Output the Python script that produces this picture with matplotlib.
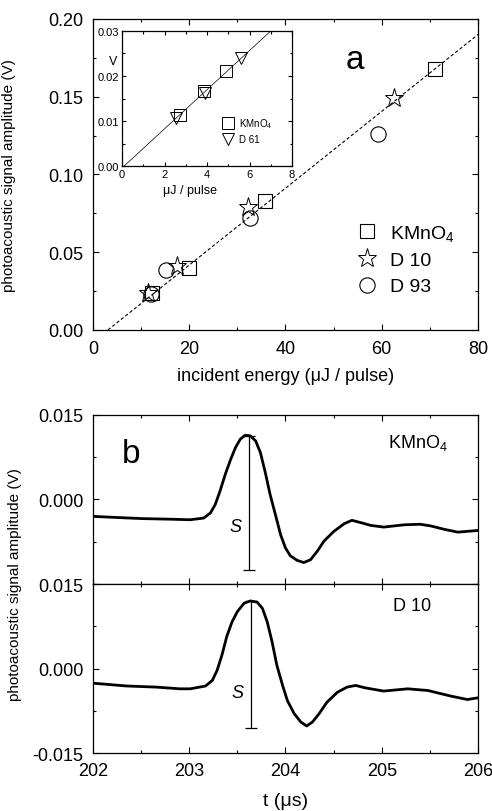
import numpy as np
import matplotlib
matplotlib.use("Agg")
import matplotlib.pyplot as plt
from matplotlib.ticker import MultipleLocator, FormatStrFormatter

plt.rcParams['font.family'] = ['Liberation Sans', 'DejaVu Sans']
plt.rcParams['mathtext.fontset'] = 'custom'
plt.rcParams['mathtext.rm'] = 'Liberation Sans'
plt.rcParams['mathtext.default'] = 'regular'

# energy scan (uJ / pulse vs V)
kmno4_e = [12.3, 20.0, 35.8, 71.0]
kmno4_v = [0.024, 0.040, 0.083, 0.168]
d10_e = [11.5, 17.5, 32.3, 62.5]
d10_v = [0.024, 0.041, 0.079, 0.149]
d93_e = [12.1, 15.2, 32.7, 59.2]
d93_v = [0.023, 0.0387, 0.072, 0.126]
fit_e = [3.1, 80.0]
fit_v = [0.0, 0.19]

# low energy inset
ins_k_e = [2.75, 3.85, 4.9]
ins_k_v = [0.0113, 0.0167, 0.0211]
ins_d61_e = [2.55, 3.9, 5.6]
ins_d61_v = [0.0107, 0.0162, 0.0240]
ins_fit_e = [0.1, 7.0]
ins_fit_v = [0.0, 0.03]

# photoacoustic transients (t in us, V)
t_kmno4 = [202.0, 202.25, 202.52, 202.8, 203.01, 203.15, 203.22, 203.27, 203.32, 203.375,
           203.43, 203.48, 203.53, 203.58, 203.635, 203.69, 203.74, 203.79, 203.84, 203.9,
           203.95, 204.0, 204.05, 204.12, 204.19, 204.26, 204.33, 204.4, 204.5, 204.61,
           204.69, 204.78, 204.885, 205.02, 205.23, 205.4, 205.51, 205.65, 205.79, 206.0]
v_kmno4 = [-0.0030, -0.0032, -0.0034, -0.0035, -0.0036, -0.0033, -0.0024, -0.0009, 0.0015, 0.0045,
           0.0071, 0.0092, 0.0107, 0.0114, 0.0113, 0.0104, 0.0083, 0.0048, 0.0009, -0.0030,
           -0.0063, -0.0086, -0.0100, -0.0108, -0.0112, -0.0107, -0.0092, -0.0074, -0.0057, -0.0043,
           -0.0037, -0.0041, -0.0046, -0.0049, -0.0045, -0.0044, -0.0047, -0.0053, -0.0058, -0.0055]
t_d10 = [202.0, 202.35, 202.66, 202.9, 203.01, 203.17, 203.24, 203.29, 203.34, 203.39,
         203.445, 203.5, 203.57, 203.635, 203.705, 203.76, 203.81, 203.86, 203.91, 203.97,
         204.02, 204.09, 204.16, 204.22, 204.28, 204.35, 204.43, 204.54, 204.64, 204.73,
         204.82, 204.885, 205.02, 205.27, 205.48, 205.6, 205.72, 205.89, 206.0]
v_d10 = [-0.0026, -0.0031, -0.0033, -0.0036, -0.0036, -0.0031, -0.0021, -0.0003, 0.0024, 0.0057,
         0.0083, 0.0101, 0.0116, 0.0120, 0.0118, 0.0107, 0.0083, 0.0048, 0.0006, -0.0030,
         -0.0057, -0.0080, -0.0095, -0.0102, -0.0095, -0.0080, -0.0060, -0.0042, -0.0033, -0.0030,
         -0.0034, -0.0036, -0.0040, -0.0036, -0.0039, -0.0044, -0.0049, -0.0055, -0.0052]
# S markers: (t, top, bottom)
s_kmno4 = (203.62, 0.0113, -0.0126)
s_d10 = (203.64, 0.0120, -0.0106)
s_text_v = [-0.0048, -0.0042]

fig = plt.figure(figsize=(4.92, 8.12), dpi=100)


def style(ax, size=13):
    ax.tick_params(which='both', direction='in', top=True, right=True, width=0.8)
    ax.tick_params(which='major', length=4, labelsize=size)
    ax.tick_params(which='minor', length=2.5)
    for sp in ax.spines.values():
        sp.set_linewidth(0.9)


# panel a
ax = fig.add_axes([0.189, 0.5924, 0.7825, 0.383])
ax.plot(fit_e, fit_v, ls=(0, (3, 2)), color='k', lw=0.8)
ax.plot(kmno4_e, kmno4_v, 's', ms=10, mfc='none', mec='k', mew=0.8, label='KMnO$_4$')
ax.plot(d10_e, d10_v, '*', ms=14, mfc='none', mec='k', mew=0.7, label='D 10')
ax.plot(d93_e, d93_v, 'o', ms=11, mfc='none', mec='k', mew=0.8, label='D 93')
ax.set_xlim(0, 80)
ax.set_ylim(0, 0.2)
ax.xaxis.set_major_locator(MultipleLocator(20))
ax.xaxis.set_minor_locator(MultipleLocator(10))
ax.yaxis.set_major_locator(MultipleLocator(0.05))
ax.yaxis.set_minor_locator(MultipleLocator(0.025))
ax.yaxis.set_major_formatter(FormatStrFormatter('%.2f'))
style(ax)
ax.tick_params(axis='x', pad=7.5)
ax.tick_params(axis='y', pad=7)
ax.set_xlabel('incident energy (μJ / pulse)', fontsize=13, labelpad=7)
ax.set_ylabel('photoacoustic signal amplitude (V)', fontsize=11)
ax.yaxis.set_label_coords(-0.2, 0.5)
ax.text(0.68, 0.87, 'a', transform=ax.transAxes, fontsize=24, ha='center', va='center')
ax.legend(loc='upper left', bbox_to_anchor=(0.66, 0.37), frameon=False, fontsize=14,
          numpoints=1, handlelength=1.2, handletextpad=0.6, labelspacing=0.45,
          borderaxespad=0)

# inset
ai = fig.add_axes([0.248, 0.7943, 0.3455, 0.1663])
ai.plot(ins_fit_e, ins_fit_v, color='k', lw=0.5)
ai.plot(ins_k_e, ins_k_v, 's', ms=8, mfc='none', mec='k', mew=0.7, label='KMnO$_4$')
ai.plot(ins_d61_e, ins_d61_v, 'v', ms=9, mfc='none', mec='k', mew=0.7, label='D 61')
ai.set_xlim(0, 8)
ai.set_ylim(0, 0.03)
ai.xaxis.set_major_locator(MultipleLocator(2))
ai.xaxis.set_minor_locator(MultipleLocator(1))
ai.yaxis.set_major_locator(MultipleLocator(0.01))
ai.yaxis.set_minor_locator(MultipleLocator(0.005))
ai.yaxis.set_major_formatter(FormatStrFormatter('%.2f'))
style(ai, size=8)
ai.tick_params(which='major', length=3, pad=2)
ai.tick_params(which='minor', length=1.8)
ai.set_xlabel('μJ / pulse', fontsize=9, labelpad=1)
ai.xaxis.set_label_coords(0.4, -0.13)
ai.text(-0.03, 0.78, 'V', transform=ai.transAxes, fontsize=9, ha='right', va='center')
ai.legend(loc='upper left', bbox_to_anchor=(0.57, 0.4), frameon=False, fontsize=7,
          numpoints=1, handlelength=1.0, handletextpad=0.7, labelspacing=0.45,
          borderaxespad=0)

# panel b
ab1 = fig.add_axes([0.189, 0.2796, 0.7825, 0.2081])
ab2 = fig.add_axes([0.189, 0.0714, 0.7825, 0.2081], sharex=ab1)
ab1.plot(t_kmno4, v_kmno4, color='k', lw=2.0, solid_joinstyle='round')
ab2.plot(t_d10, v_d10, color='k', lw=2.0, solid_joinstyle='round')
for a, s, sv in ((ab1, s_kmno4, s_text_v[0]), (ab2, s_d10, s_text_v[1])):
    a.vlines(s[0], s[2], s[1], color='k', lw=0.9)
    a.hlines([s[1], s[2]], s[0] - 0.06, s[0] + 0.06, color='k', lw=0.9)
    a.text(s[0] - 0.14, sv, 'S', fontsize=13, style='italic', ha='center', va='center')
    a.set_ylim(-0.015, 0.015)
    a.yaxis.set_major_locator(MultipleLocator(0.015))
    a.yaxis.set_minor_locator(MultipleLocator(0.0075))
    a.yaxis.set_major_formatter(FormatStrFormatter('%.3f'))
    style(a)
    a.tick_params(axis='y', pad=7)
ab1.set_xlim(202, 206)
ab1.xaxis.set_major_locator(MultipleLocator(1))
ab1.xaxis.set_minor_locator(MultipleLocator(0.5))
ab1.tick_params(labelbottom=False)
ab1.set_yticks([0.0, 0.015])
ab2.set_yticks([-0.015, 0.0, 0.015])
ab2.set_yticklabels(['-0.015', '0.000', '0.015'])
ab2.tick_params(axis='x', pad=6.5)
ab1.text(0.1, 0.77, 'b', transform=ab1.transAxes, fontsize=24, ha='center', va='center')
ab1.text(205.06, 0.0102, 'KMnO$_4$', fontsize=13, ha='left', va='center')
ab2.text(205.12, 0.0112, 'D 10', fontsize=13, ha='left', va='center')
ab2.set_xlabel('t (μs)', fontsize=14, labelpad=9)
fig.text(0.03, 0.2796, 'photoacoustic signal amplitude (V)', rotation=90,
         fontsize=11, ha='center', va='center')

fig.savefig('out.png', dpi=100)
